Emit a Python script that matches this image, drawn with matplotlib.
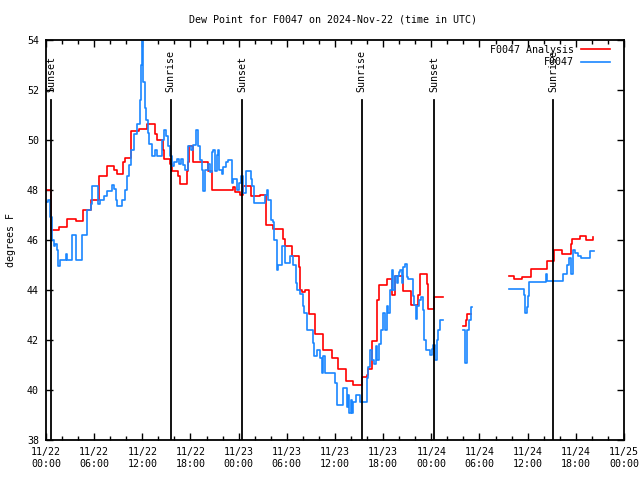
import numpy as np
import pandas as pd
import matplotlib
matplotlib.use("Agg")
import matplotlib.pyplot as plt

nan = np.nan

# hours after 2024-11-22 00:00 UTC
ana_hours = [0.1, 0.6, 1.6, 2.6, 3.7, 4.65, 5.55, 6.6, 7.65, 8.45, 8.8, 9.6, 9.8,
             10.65, 11.6, 12.6, 13.6, 13.85, 14.55, 14.75, 15.5, 15.7, 16.5, 16.7,
             17.55, 17.65, 17.8, 18.3, 20.2, 20.65, 23.35, 23.55, 24.15, 24.6, 25.5,
             26.65, 27.4, 28.3, 29.5, 29.8, 30.6, 31.5, 31.7, 31.9, 32.25, 32.7,
             33.5, 34.5, 35.6, 36.35, 37.35, 38.3, 39.35, 39.95, 40.1, 40.55, 41.25,
             41.5, 42.45, 43.1, 43.45, 44.45, 45.45, 46.4, 46.6, 47.4, 47.6, 48.35,
             49.3, 49.4,
             52.0, 52.3, 52.5, 52.95, 53.0,
             57.7, 58.35, 59.25, 60.4, 62.35, 63.3, 64.3, 65.35, 65.5, 66.5, 67.25,
             68.1, 68.2]
ana_dewpt = [48.0, 46.4, 46.5, 46.85, 46.75, 47.2, 47.6, 48.55, 48.95, 48.8, 48.65,
             49.1, 49.3, 50.35, 50.45, 50.65, 50.25, 50.0, 49.6, 49.25, 49.05, 48.75,
             48.55, 48.25, 48.75, 49.1, 49.75, 49.1, 48.75, 48.0, 48.1, 47.9, 47.8,
             48.15, 47.75, 47.8, 46.6, 46.45, 46.05, 45.75, 45.35, 44.9, 44.0, 43.9,
             44.0, 43.05, 42.25, 41.6, 41.3, 40.85, 40.35, 40.2, 40.5, 40.6, 40.85,
             41.95, 43.6, 44.2, 44.45, 43.8, 44.55, 43.95, 43.4, 43.8, 44.65, 44.25,
             43.25, 43.7, 43.7, nan,
             42.55, 42.8, 43.05, 43.05, nan,
             44.55, 44.45, 44.5, 44.85, 45.15, 45.6, 45.45, 45.85, 46.05, 46.15, 46.0,
             46.1, 46.1]

obs_hours = [0.0, 0.25, 0.44, 0.78, 1.0, 1.18, 1.37, 1.49, 1.74, 2.45, 2.65, 3.28,
             3.7, 4.52, 5.14, 5.57, 5.77, 6.42, 6.73, 7.23, 7.64, 8.22, 8.47, 8.68,
             8.81, 9.5, 9.84, 10.13, 10.34, 10.63, 10.96, 11.37, 11.65, 11.83, 11.92,
             12.08, 12.27, 12.46, 12.67, 12.87, 13.17, 13.58, 13.79, 14.41, 14.7,
             14.95, 15.24, 15.45, 15.7, 15.95, 16.28, 16.51, 16.82, 17.07, 17.32,
             17.73, 18.06, 18.37, 18.65, 18.94, 19.18, 19.4, 19.6, 19.81, 20.22,
             20.43, 20.68, 20.84, 21.05, 21.26, 21.43, 21.61, 21.89, 22.11, 22.42,
             22.71, 23.13, 23.33, 23.76, 23.98, 24.29, 24.58, 24.91, 25.5, 25.72,
             25.91, 27.28, 27.49, 27.69, 27.99, 28.22, 28.44, 28.74, 28.94, 29.36,
             29.77, 30.4, 30.73, 31.1, 31.23, 31.64, 31.98, 32.18, 32.48, 33.2,
             33.39, 33.8, 34.13, 34.34, 34.54, 34.76, 36.0, 36.21, 36.29, 36.96,
             37.46, 37.66, 37.78, 37.96, 38.08, 38.28, 38.62, 39.12, 39.95, 40.15,
             40.36, 40.57, 40.86, 41.11, 41.27, 41.44, 41.69, 41.94, 42.23, 42.52,
             42.64, 42.85, 43.06, 43.26, 43.48, 43.69, 43.85, 44.01, 44.1, 44.31,
             44.47, 44.72, 44.93, 45.1, 45.75, 45.88, 46.05, 46.25, 46.5, 46.71,
             46.93, 47.09, 47.3, 47.84, 48.05, 48.25, 48.46, 48.67, 48.87, 49.08,
             49.3, 49.4,
             51.98, 52.19, 52.4, 52.5, 52.73, 52.94, 53.07, 53.1,
             57.71, 59.54, 59.67, 59.86, 60.08, 60.21, 62.25, 62.47, 64.44, 64.9,
             65.11, 65.36, 65.61, 65.9, 66.27, 66.65, 67.77, 68.26]
obs_dewpt = [47.5, 47.6, 46.9, 46.0, 45.75, 45.85, 45.6, 44.95, 45.2, 45.45, 45.2,
             46.2, 45.2, 46.2, 47.2, 47.45, 48.15, 47.45, 47.6, 47.75, 47.95, 48.2,
             48.05, 47.6, 47.35, 47.6, 48.0, 48.55, 49.0, 49.6, 50.25, 50.65, 51.6,
             53.0, 54.0, 52.3, 51.3, 50.8, 50.3, 49.85, 49.35, 49.6, 49.35, 50.0,
             50.4, 50.15, 49.75, 49.35, 48.95, 49.1, 49.25, 49.05, 49.25, 49.0, 48.8,
             49.75, 49.6, 49.8, 50.4, 49.75, 49.2, 48.8, 47.95, 48.8, 49.05, 48.7,
             49.5, 49.6, 48.75, 49.4, 49.6, 48.8, 48.65, 48.9, 49.1, 49.2, 48.27,
             48.45, 48.0, 48.3, 48.55, 47.87, 48.75, 48.45, 48.15, 47.47, 47.8, 48.0,
             47.6, 46.8, 46.7, 46.0, 44.8, 45.0, 45.75, 45.07, 45.35, 45.0, 44.3,
             44.0, 43.85, 43.35, 43.07, 42.4, 41.9, 41.35, 41.6, 41.3, 40.67, 41.35,
             40.67, 40.27, 39.87, 39.4, 40.07, 39.33, 39.8, 39.07, 39.6, 39.07,
             39.53, 39.8, 39.53, 40.47, 40.93, 41.6, 41.2, 41.05, 41.75, 41.2, 41.85,
             42.4, 43.07, 42.4, 43.35, 43.07, 44.0, 44.8, 44.0, 44.55, 44.3, 44.55,
             44.7, 44.8, 44.3, 44.9, 45.05, 44.5, 44.45, 43.75, 43.4, 42.85, 43.35,
             43.6, 43.7, 43.2, 42.0, 41.6, 41.4, 41.65, 41.8, 41.2, 42.0, 42.4, 42.8,
             42.8, nan,
             42.4, 41.07, 42.0, 42.4, 42.8, 43.33, 43.33, nan,
             44.03, 43.8, 43.07, 43.33, 43.75, 44.33, 44.63, 44.35, 44.65, 45.0,
             45.3, 44.65, 45.6, 45.47, 45.37, 45.3, 45.57, 45.57]

sun_hours = [0.67, 15.53, 24.45, 39.33, 48.33, 63.2]
sun_labels = ["Sunset", "Sunrise", "Sunset", "Sunrise", "Sunset", "Sunrise"]

tick_hours = list(range(0, 73, 6))
start = pd.Timestamp("2024-11-22 00:00")
tick_labels = [(start + pd.Timedelta(hours=h)).strftime("%m/%d\n%H:%M") for h in tick_hours]

plt.rcParams['font.family'] = 'DejaVu Sans Mono'
plt.rcParams['font.size'] = 7.2

fig = plt.figure(figsize=(6.4, 4.8), dpi=100)
ax = fig.add_axes([46/640, 40/480, 578/640, 400/480])

ax.plot(ana_hours, ana_dewpt, drawstyle="steps-post", color="#ff0000", lw=1.2, label="F0047 Analysis")
ax.plot(obs_hours, obs_dewpt, drawstyle="steps-post", color="#1a86ff", lw=1.2, label="F0047")

for h, lab in zip(sun_hours, sun_labels):
    ax.axvline(h, ymin=0, ymax=0.85, color="black", lw=1.3)
    ax.text(h, 0.87, lab, rotation=90, ha="center", va="bottom",
            transform=ax.get_xaxis_transform())

ax.set_xlim(0, 72)
ax.set_ylim(38, 54)
ax.set_xticks(tick_hours)
ax.set_xticklabels(tick_labels)
ax.set_xticks(range(0, 73, 2), minor=True)
ax.set_yticks(range(38, 55, 2))
ax.tick_params(which="both", direction="in", top=True, right=True, width=1, pad=5)
ax.tick_params(which="major", length=5)
ax.tick_params(which="minor", length=3)
for s in ax.spines.values():
    s.set_linewidth(1.3)

ax.set_ylabel("degrees F", labelpad=8)
fig.text(333/640, 1 - 20/480, "Dew Point for F0047 on 2024-Nov-22 (time in UTC)",
         ha="center", va="center")

ax.legend(loc="upper right", bbox_to_anchor=(0.981, 0.995), frameon=False,
          markerfirst=False, handlelength=2.9, handletextpad=0.7,
          labelspacing=0.25, borderpad=0.3, borderaxespad=0)

fig.savefig("out.png", dpi=100)
